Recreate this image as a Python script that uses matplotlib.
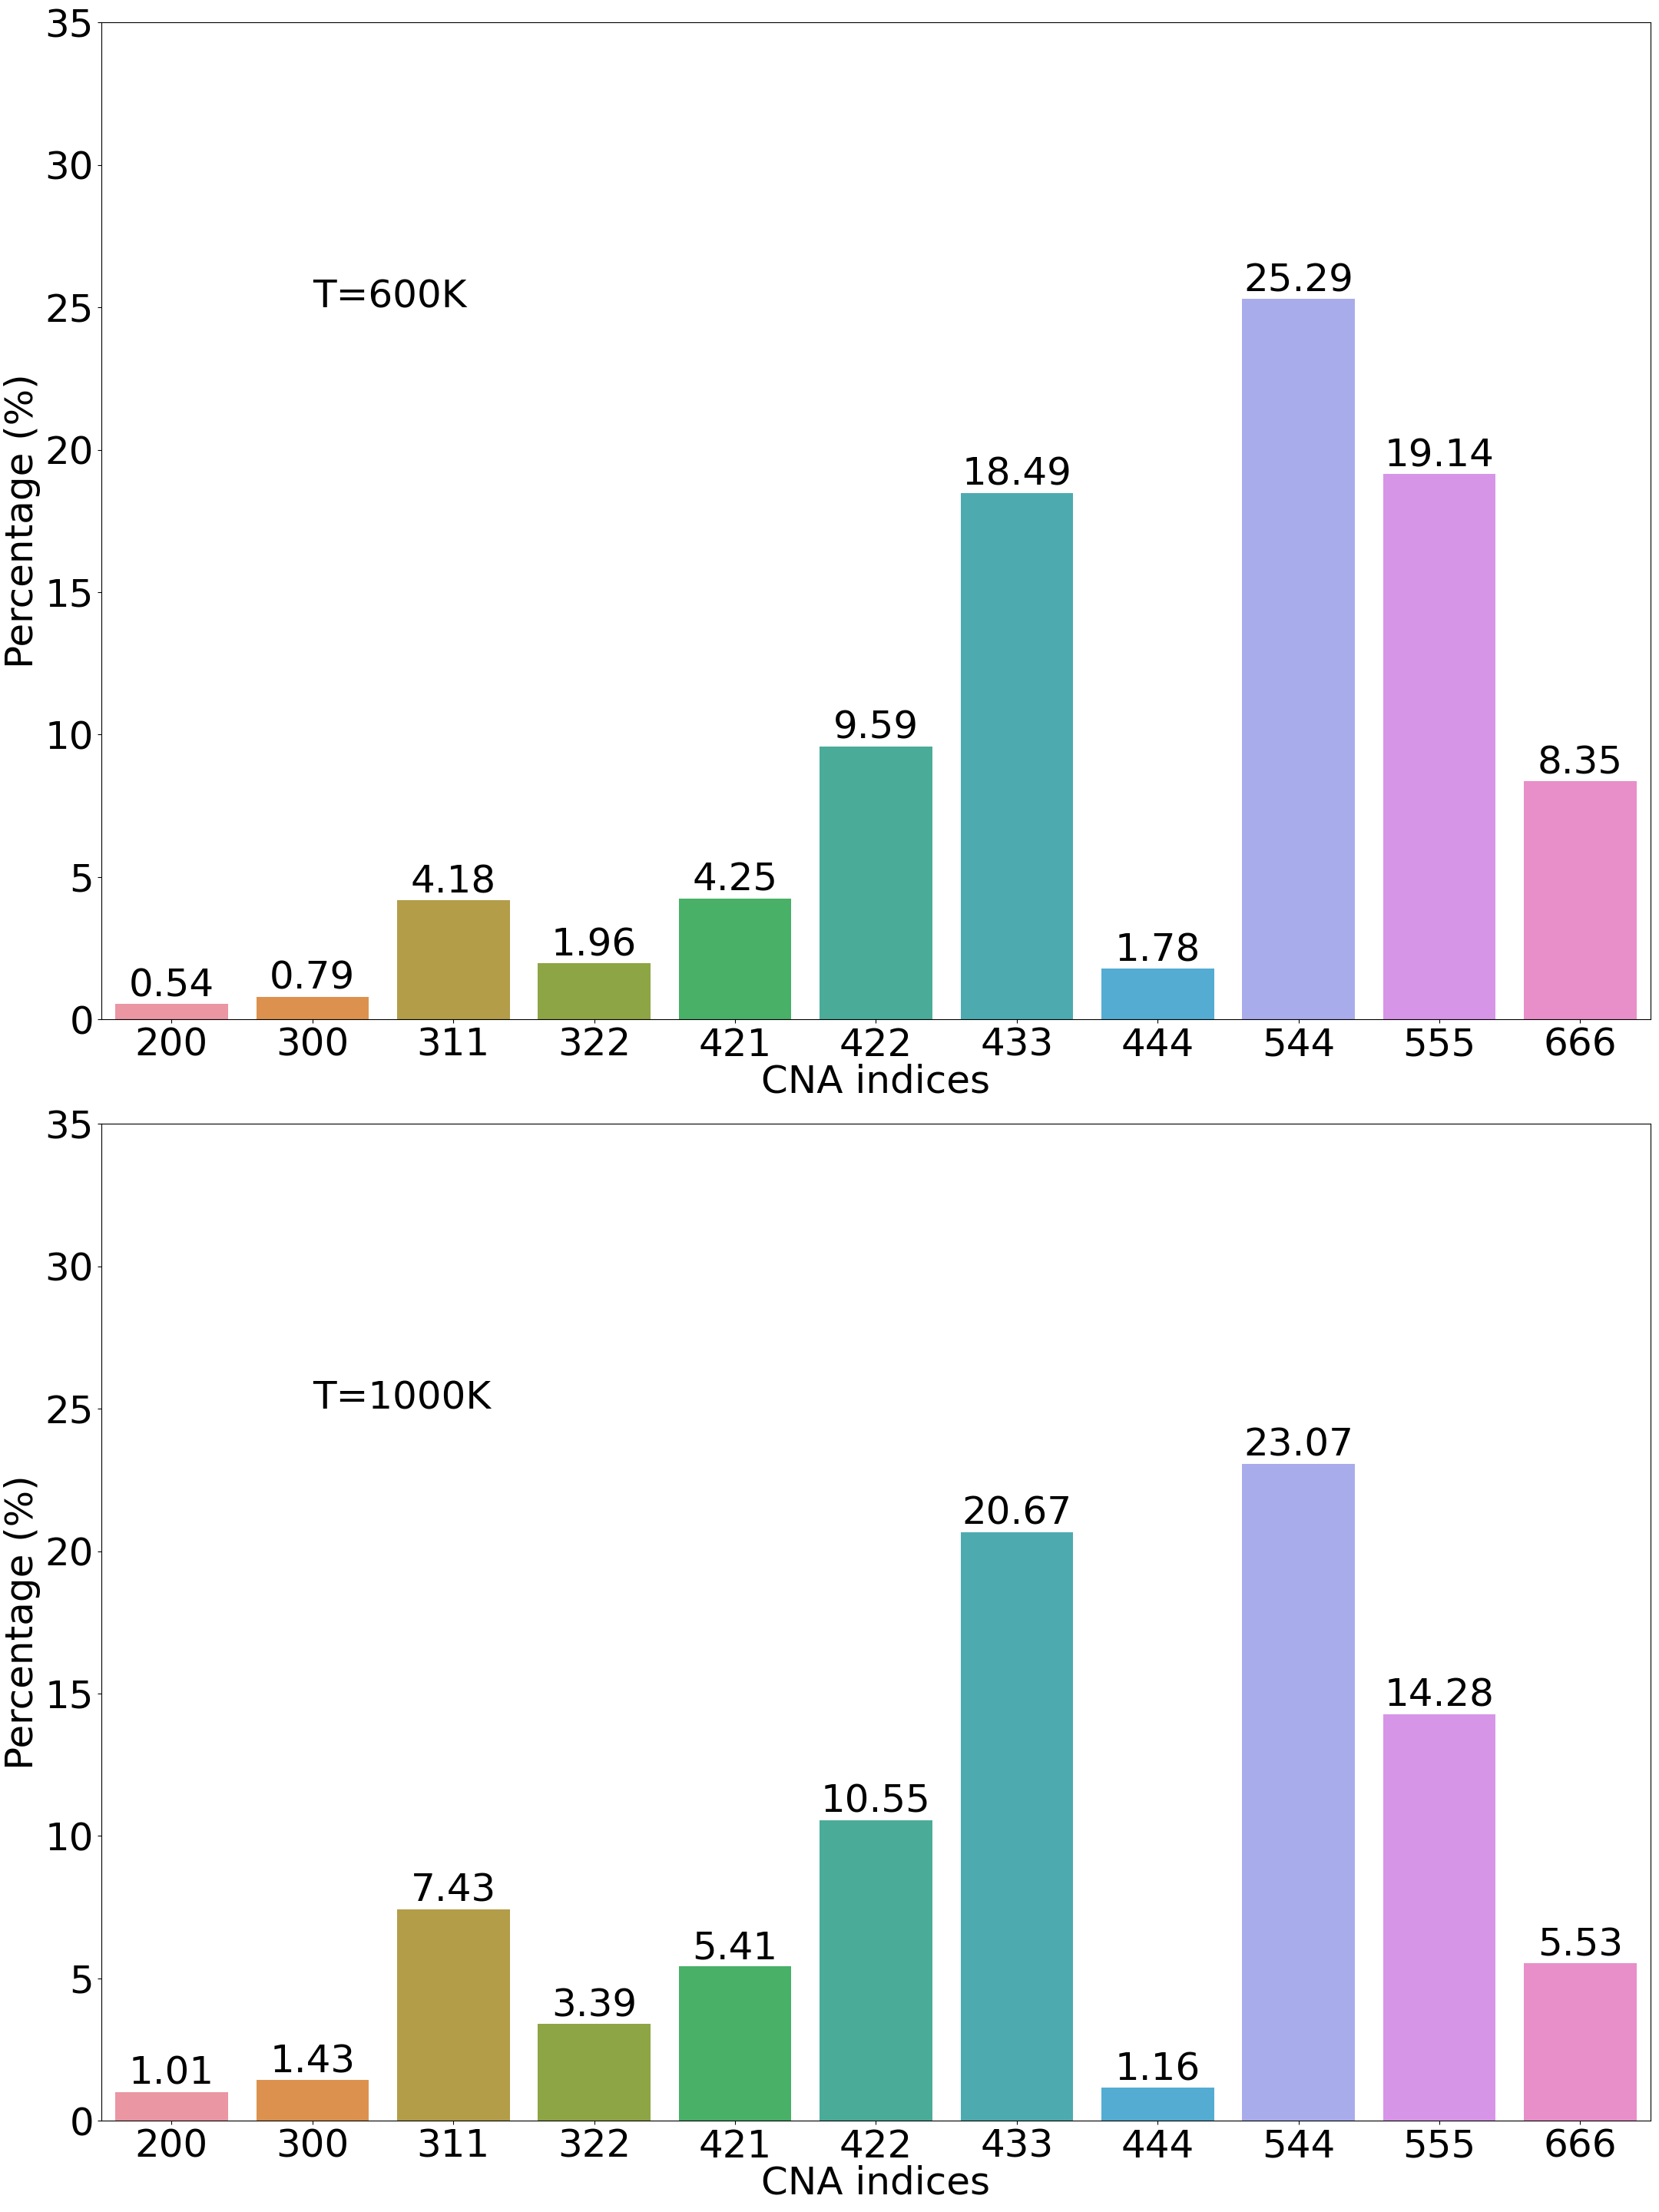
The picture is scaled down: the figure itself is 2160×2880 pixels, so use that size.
import matplotlib
matplotlib.use("Agg")
from matplotlib import pyplot as plt
import seaborn as sns

# Data
CNA_INDICES = ["200", "300", "311", "322", "421", "422", "433", "444", "544", "555", "666"]
PCT_600K = [0.54, 0.79, 4.18, 1.96, 4.25, 9.59, 18.49, 1.78, 25.29, 19.14, 8.35]
PCT_1000K = [1.01, 1.43, 7.43, 3.39, 5.41, 10.55, 20.67, 1.16, 23.07, 14.28, 5.53]
PANEL_LABELS = ["T=600K", "T=1000K"]

# Plot settings
FIG_SIZE = (21.6, 28.8)
DPI = 100
FONT_SIZE = 36
Y_MAX = 35
# old seaborn default for many categories: husl with l=.7
PALETTE = sns.husl_palette(len(CNA_INDICES), l=.7)


def draw_panel(ax, values, label):
    """Draw one CNA histogram panel"""
    sns.barplot(x=CNA_INDICES, y=values, hue=CNA_INDICES, palette=PALETTE,
                legend=False, ax=ax)

    # Value on top of each bar
    for container in ax.containers:
        ax.bar_label(container, fmt="%.2f", fontsize=FONT_SIZE, padding=0)

    ax.text(1, 25, label, fontsize=FONT_SIZE)
    ax.set_ylim(0, Y_MAX)
    ax.set_xlim(-0.5, len(CNA_INDICES) - 0.5)
    ax.set_xlabel("CNA indices", fontsize=FONT_SIZE, labelpad=0)
    ax.set_ylabel("Percentage (%)", fontsize=FONT_SIZE)
    ax.tick_params(labelsize=FONT_SIZE)


fig, axes = plt.subplots(2, 1, figsize=FIG_SIZE)
fig.subplots_adjust(left=0.061, right=0.995, top=0.9898, bottom=0.0413, hspace=0.105)

draw_panel(axes[0], PCT_600K, PANEL_LABELS[0])
draw_panel(axes[1], PCT_1000K, PANEL_LABELS[1])

fig.savefig("out.png", dpi=DPI)
